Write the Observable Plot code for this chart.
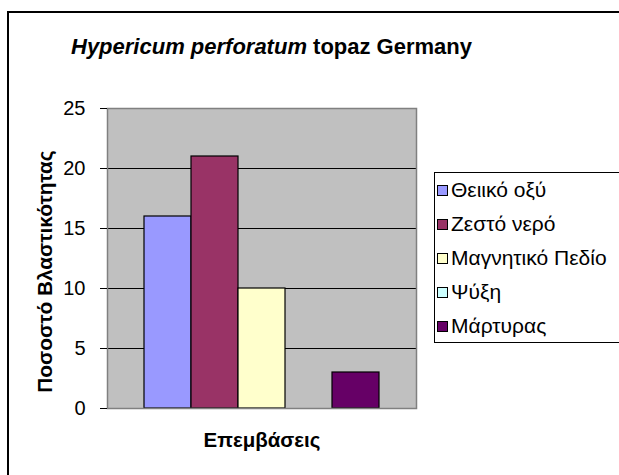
<!DOCTYPE html>
<html>
<head>
<meta charset="utf-8">
<script src="https://cdn.jsdelivr.net/npm/d3@7"></script>
<script src="https://cdn.jsdelivr.net/npm/@observablehq/plot@0.6"></script>
<style>
  body { margin: 0; background: #fff; }
  #wrap { position: relative; width: 619px; height: 475px; overflow: hidden; font-family: "Liberation Sans", Arial, sans-serif; }
  #frame { position: absolute; left: 7px; top: 11px; width: 700px; height: 600px; border: 2px solid #000; box-sizing: border-box; }
  #title { position: absolute; left: 0; top: 34px; width: 543px; text-align: center; font-size: 22px; line-height: 26px; font-weight: bold; color: #000; white-space: nowrap; }
  #legend { position: absolute; left: 434px; top: 172px; width: 300px; height: 171px; border: 1px solid #000; box-sizing: border-box; background: #fff; }
  .item { position: absolute; left: 2px; height: 24px; font-size: 21px; line-height: 24px; color: #000; white-space: nowrap; display: flex; align-items: center; }
  .sw { width: 9px; height: 9px; border: 1px solid #000; margin-right: 3px; }
  svg { position: absolute; left: 0; top: 0; }
</style>
</head>
<body>
<div id="wrap">
  <div id="frame"></div>
  <div id="title"><i>Hypericum perforatum</i> topaz Germany</div>
  <div id="legend"></div>
</div>
<script>
const categories = ["Θειικό οξύ", "Ζεστό νερό", "Μαγνητικό Πεδίο", "Ψύξη", "Μάρτυρας"];
const values = [16, 21, 10, 0, 3];
const colors = ["#9999FF", "#993366", "#FFFFCC", "#CCFFFF", "#660066"];
const yTicks = [0, 5, 10, 15, 20, 25];
const gridTicks = [5, 10, 15, 20];
const yLabel = "Ποσοστό Βλαστικότητας";
const xLabel = "Επεμβάσεις";

const data = categories.map((c, i) => ({category: c, value: values[i]}));

const chart = Plot.plot({
  width: 619,
  height: 475,
  marginLeft: 107,
  marginRight: 203,
  marginTop: 108,
  marginBottom: 67,
  style: {fontFamily: "Liberation Sans, Arial, sans-serif", background: "transparent"},
  x: {type: "band", domain: categories, paddingInner: 0, paddingOuter: 0.76, axis: null},
  y: {domain: [0, 25]},
  color: {domain: categories, range: colors},
  marks: [
    Plot.frame({fill: "#C0C0C0"}),
    Plot.ruleY(gridTicks, {stroke: "#000", strokeWidth: 1}),
    Plot.barY(data, {x: "category", y: "value", fill: "category", stroke: "#000", strokeWidth: 1.2}),
    Plot.frame({stroke: "#808080", strokeWidth: 1.5}),
    Plot.axisY({ticks: yTicks, tickSize: 7, tickPadding: 15, fontSize: 20, label: null, stroke: "#000", tickFormat: d => d, color: "#000"}),
    Plot.text([yLabel], {frameAnchor: "left", textAnchor: "middle", rotate: -90, dx: -62, dy: 13, fontWeight: "bold", fontSize: 20.8, fill: "#000"}),
    Plot.text([xLabel], {frameAnchor: "bottom", dy: 38, fontWeight: "bold", fontSize: 20.5, fill: "#000"})
  ]
});
document.getElementById("wrap").appendChild(chart);

const legend = document.getElementById("legend");
categories.forEach((c, i) => {
  const it = document.createElement("div");
  it.className = "item";
  it.style.top = (5 + i * 34) + "px";
  const sw = document.createElement("span");
  sw.className = "sw";
  sw.style.background = colors[i];
  it.appendChild(sw);
  it.appendChild(document.createTextNode(c));
  legend.appendChild(it);
});
</script>
</body>
</html>
